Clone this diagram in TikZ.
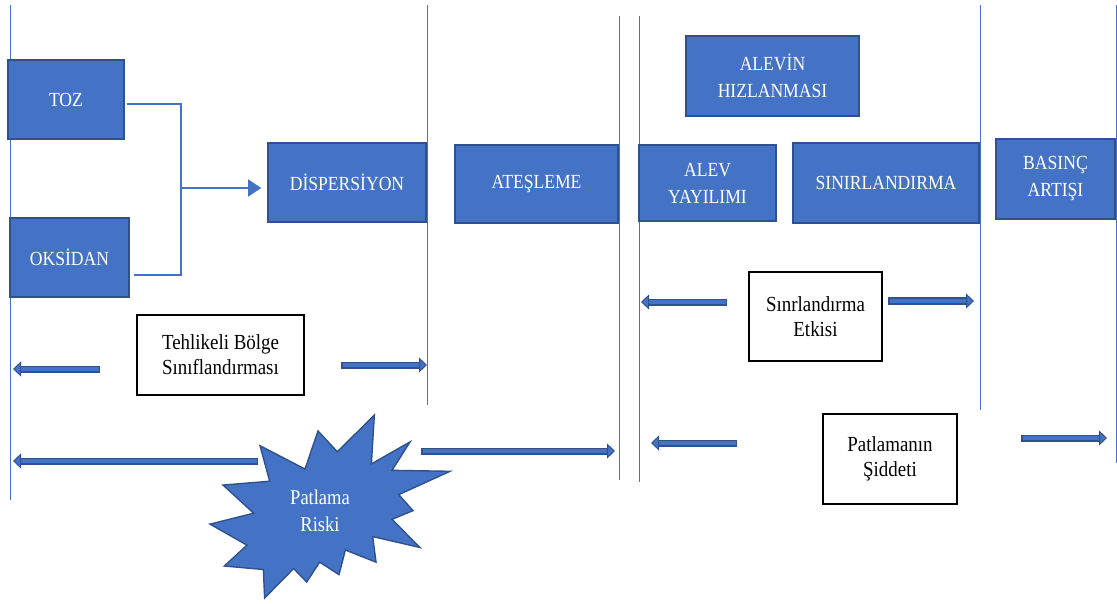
\documentclass[tikz,border=0pt]{standalone}
\usepackage{fontspec}
\setmainfont{Liberation Serif}[FakeStretch=0.88]
\usepackage{tikz}
\usetikzlibrary{arrows.meta,positioning,calc}
\definecolor{boxblue}{HTML}{4472C4}
\definecolor{boxedge}{HTML}{2F528F}

\begin{document}
\begin{tikzpicture}[x=1pt, y=-1pt,
  >={Triangle[length=13pt, width=17pt]},
  blk/.style={draw=boxedge, line width=1.6pt, fill=boxblue, text=white, align=center, inner sep=2pt, font=\fontsize{20}{27}\selectfont},
  note/.style={draw=black, line width=1.6pt, fill=white, align=center, inner sep=2pt, font=\fontsize{21.5}{25}\selectfont},
  sep/.style={draw=boxblue, line width=0.9pt},
  link/.style={draw=boxblue, line width=1.3pt},
  fat/.style={draw=boxedge, line width=7pt, -{Triangle[length=8pt, width=15pt, line width=1pt 0, fill=boxblue]},
    postaction={draw=boxblue, line width=4pt, -, shorten <=1.5pt, shorten >=8pt}},
  burst/.style={draw=boxedge, line width=1.4pt, fill=boxblue, line join=miter},
  bursttext/.style={text=white, align=center, font=\fontsize{21}{26.5}\selectfont}]
  \useasboundingbox (0,0) rectangle (1117,604);
  \fill[white] (0,0) rectangle (1117,604);
  % phase separators
  \foreach \x/\ya/\yb in {10/5/500, 427/5/405, 619/16/480, 639/16/482, 980/5/410, 1116/5/463}
    \draw[sep] (\x,\ya) -- (\x,\yb);
  % stages
  \node[blk, minimum width=116pt, minimum height=79pt] (toz) at (66,99.5) {TOZ};
  \node[blk, minimum width=119pt, minimum height=79pt] (oks) at (69.5,257.5) {OKSİDAN};
  \node[blk, minimum width=158pt, minimum height=79pt] (disp) at (347,182.5) {DİSPERSİYON};
  \node[blk, minimum width=163pt, minimum height=78pt] (ates) at (536.5,184) {ATEŞLEME};
  \node[blk, minimum width=173pt, minimum height=80pt] (hiz) at (772.5,76) {ALEVİN\\HIZLANMASI};
  \node[blk, minimum width=137pt, minimum height=76pt] (yay) at (707.5,183) {ALEV\\YAYILIMI};
  \node[blk, minimum width=186pt, minimum height=80pt] (sinir) at (886,183) {SINIRLANDIRMA};
  \node[blk, minimum width=119pt, minimum height=80pt] (basinc) at (1055.5,179) {BASINÇ\\ARTIŞI};
  % notes
  \node[note, minimum width=167pt, minimum height=80pt] (zone) at (220.5,355) {Tehlikeli Bölge\\Sınıflandırması};
  \node[note, minimum width=133pt, minimum height=89pt] (etki) at (815.5,316.5) {Sınrlandırma\\Etkisi};
  \node[note, minimum width=134pt, minimum height=90pt] (siddet) at (890,459) {Patlamanın\\Şiddeti};
  % explosion
  \begin{scope}[shift={(210,415)}, xscale=1.1111, yscale=0.8472]
    \draw[burst] (114.62,43.42) -- (147.90,0) -- (145.25,57.77) -- (180.07,31.72) -- (163.80,65.32)
      -- (216.00,66.45) -- (169.85,94.02) -- (182.70,112.90) -- (163.80,123.10) -- (188.77,156.32)
      -- (146.40,143.50) -- (149.42,173.70) -- (121.80,159.35) -- (116.12,188.42) -- (98.72,173.70)
      -- (87.00,197.12) -- (75.27,181.25) -- (49.17,216.00) -- (48.05,182.40) -- (12.85,178.25)
      -- (33.30,153.70) -- (0,128.77) -- (39.35,115.92) -- (11.72,82.70) -- (53.72,78.17)
      -- (45.02,36.25) -- (85.50,63.82) -- (97.22,18.87) -- cycle;
  \end{scope}
  \node[bursttext] (risk) at (320,511) {Patlama\\Riski};
  % toz + oksidan -> dispersiyon
  \coordinate (jn) at (181,188);
  \draw[link] ([xshift=2pt,yshift=-4.5pt]toz.east) -| (jn) |- ([xshift=4pt,yshift=-17.5pt]oks.east);
  \draw[link, ->, shorten >=6pt] (jn) -- (jn -| disp.west);
  % ends of the block arrows
  \coordinate (zoneL) at (100,369);  \coordinate (zoneLend) at (13,369);
  \coordinate (zoneR) at (341,365);  \coordinate (zoneRend) at (427,365);
  \coordinate (riskL) at (258,461);  \coordinate (riskLend) at (13,461);
  \coordinate (riskR) at (421,451);  \coordinate (riskRend) at (615,451);
  \coordinate (etkiL) at (727,302);  \coordinate (etkiLend) at (641,302);
  \coordinate (etkiR) at (888,301);  \coordinate (etkiRend) at (974,301);
  \coordinate (sidL) at (737,443);   \coordinate (sidLend) at (651,443);
  \coordinate (sidR) at (1021,438);  \coordinate (sidRend) at (1107,438);
  \draw[fat] (zoneL) -- (zoneLend);
  \draw[fat] (zoneR) -- (zoneRend);
  \draw[fat] (riskL) -- (riskLend);
  \draw[fat] (riskR) -- (riskRend);
  \draw[fat] (etkiL) -- (etkiLend);
  \draw[fat] (etkiR) -- (etkiRend);
  \draw[fat] (sidL) -- (sidLend);
  \draw[fat] (sidR) -- (sidRend);
\end{tikzpicture}
\end{document}
